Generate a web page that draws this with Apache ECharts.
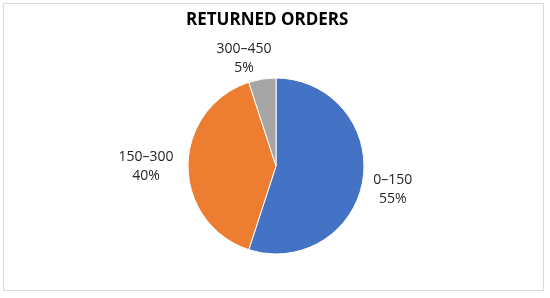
<!DOCTYPE html>
<html><head><meta charset="utf-8">
<script src="https://cdn.jsdelivr.net/npm/echarts@6/dist/echarts.min.js"></script>
<style>html,body{margin:0;padding:0;background:#fff}
#frame{position:absolute;left:3px;top:3px;width:541px;height:288px;border:1px solid #d9d9d9;box-sizing:border-box}
#c{width:550px;height:298px;position:absolute;left:0;top:0}</style>
</head><body><div id="frame"></div><div id="c"></div>
<script>
const categories = ['0–150', '150–300', '300–450'];
const values = [55, 40, 5];
const colors = ['#4472C4', '#ED7D31', '#A5A5A5'];
const title = 'RETURNED ORDERS';
const labelShift = [[-5, 7], [-7, 1], [0, -1]];
const chart = echarts.init(document.getElementById('c'));
chart.setOption({
  title: { text: title, left: 181, top: 7, textStyle: { fontFamily: 'Open Sans', fontWeight: 'bold', fontSize: 17, color: '#000' } },
  series: [{
    type: 'pie', center: [276, 166], radius: 88, startAngle: 90, clockwise: true,
    animation: false,
    data: categories.map((c, i) => ({ name: c, value: values[i], itemStyle: { color: colors[i] } })),
    itemStyle: { borderColor: '#fff', borderWidth: 1 },
    label: { show: true, position: 'outside', formatter: p => p.name + '\n' + Math.round(p.percent) + '%', fontFamily: 'Open Sans', fontSize: 14, color: '#262626', lineHeight: 19 },
    labelLine: { show: false, length: 20, length2: 10 },
    labelLayout: p => ({ align: 'center', dx: labelShift[p.dataIndex][0], dy: labelShift[p.dataIndex][1] })
  }]
});
</script></body></html>
